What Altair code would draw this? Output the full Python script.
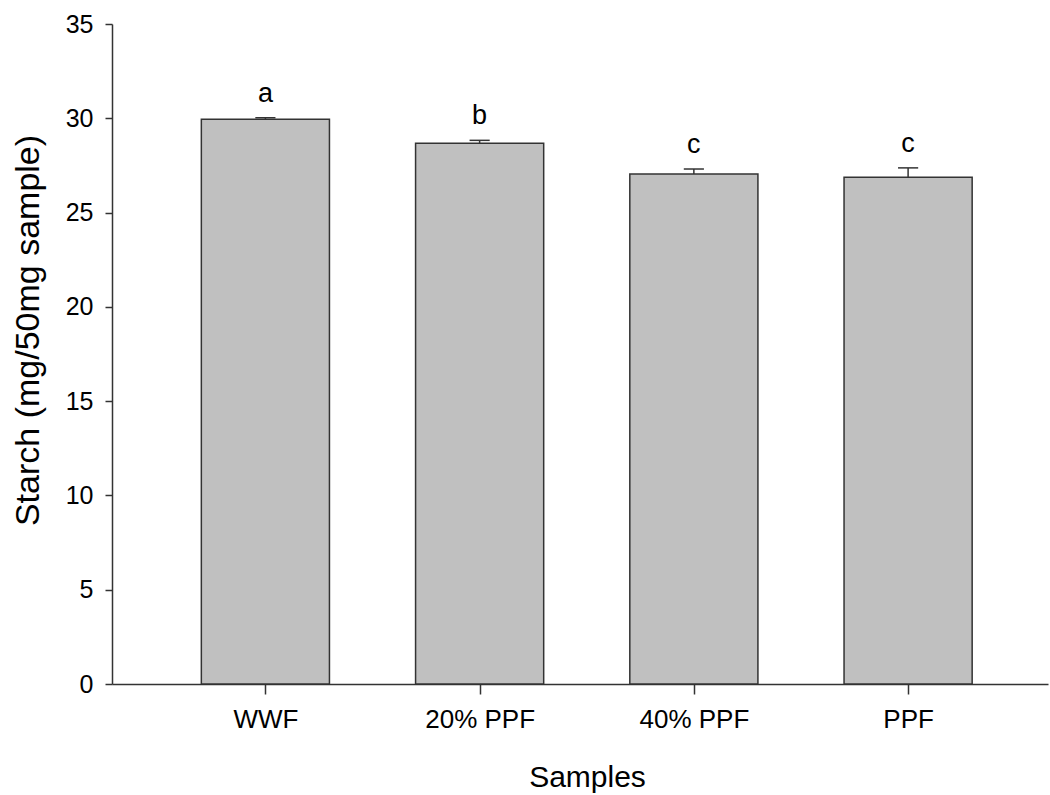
import json
import altair as alt
import pandas as pd

# Starch content per flour sample (mean and SD), with significance letters
samples = ["WWF", "20% PPF", "40% PPF", "PPF"]
positions = [1, 2, 3, 4]
starch = [29.95, 28.67, 27.05, 26.87]
sd = [0.08, 0.16, 0.26, 0.50]
letters = ["a", "b", "c", "c"]

df = pd.DataFrame({
    "sample": samples,
    "pos": positions,
    "starch": starch,
    "sd": sd,
    "letter": letters,
})

FONT = "Liberation Sans"
INK = "#333333"
BAR_HALF = 0.299   # half bar width in x units
CAP_HALF = 0.047   # half error-cap width in x units

label_expr = json.dumps(samples) + "[datum.value - 1]"

x_scale = alt.Scale(domain=[0.284, 4.653], nice=False, zero=False)
y_scale = alt.Scale(domain=[0, 35], nice=False)

base = alt.Chart(df).transform_calculate(
    x0=f"datum.pos - {BAR_HALF}",
    x1=f"datum.pos + {BAR_HALF}",
    c0=f"datum.pos - {CAP_HALF}",
    c1=f"datum.pos + {CAP_HALF}",
    top="datum.starch + datum.sd",
)

bars = base.mark_bar(fill="#c0c0c0", stroke=INK, strokeWidth=1.5).encode(
    x=alt.X("x0:Q", scale=x_scale,
            axis=alt.Axis(values=positions, labelExpr=label_expr, title="Samples",
                          tickSize=10, labelPadding=12, labelFontSize=26,
                          titleFontSize=30, titleFontWeight="normal",
                          titleX=475, titleY=93, titleBaseline="middle",
                          titleAlign="center")),
    x2="x1:Q",
    y=alt.Y("starch:Q", scale=y_scale,
            axis=alt.Axis(values=[0, 5, 10, 15, 20, 25, 30, 35],
                          title="Starch (mg/50mg sample)",
                          tickSize=7, labelPadding=12, labelFontSize=25,
                          titleFontSize=34, titleFontWeight="normal",
                          titleAngle=-90, titleX=-84, titleY=306,
                          titleAlign="center", titleBaseline="middle")),
    y2=alt.Y2(datum=0),
)

stems = base.mark_rule(color=INK, strokeWidth=1.5).encode(
    x="pos:Q",
    y="starch:Q",
    y2="top:Q",
)

caps = base.mark_rule(color=INK, strokeWidth=1.5).encode(
    x="c0:Q",
    x2="c1:Q",
    y="top:Q",
)

marks = base.mark_text(font=FONT, fontSize=27, color="#000000",
                       baseline="bottom", dy=-10).encode(
    x="pos:Q",
    y="top:Q",
    text="letter:N",
)

chart = (
    alt.layer(bars, stems, caps, marks)
    .properties(
        width=936,
        height=660,
        autosize=alt.AutoSizeParams(type="none"),
        padding={"left": 112, "top": 24, "right": 2, "bottom": 111},
        background="white",
    )
    .configure_view(stroke=None)
    .configure_axis(
        grid=False,
        domainColor=INK,
        domainWidth=1.5,
        tickColor=INK,
        tickWidth=1.5,
        labelColor="#000000",
        titleColor="#000000",
        labelFont=FONT,
        titleFont=FONT,
    )
)

chart.save("out.html", embed_options={"renderer": "svg", "actions": False})
